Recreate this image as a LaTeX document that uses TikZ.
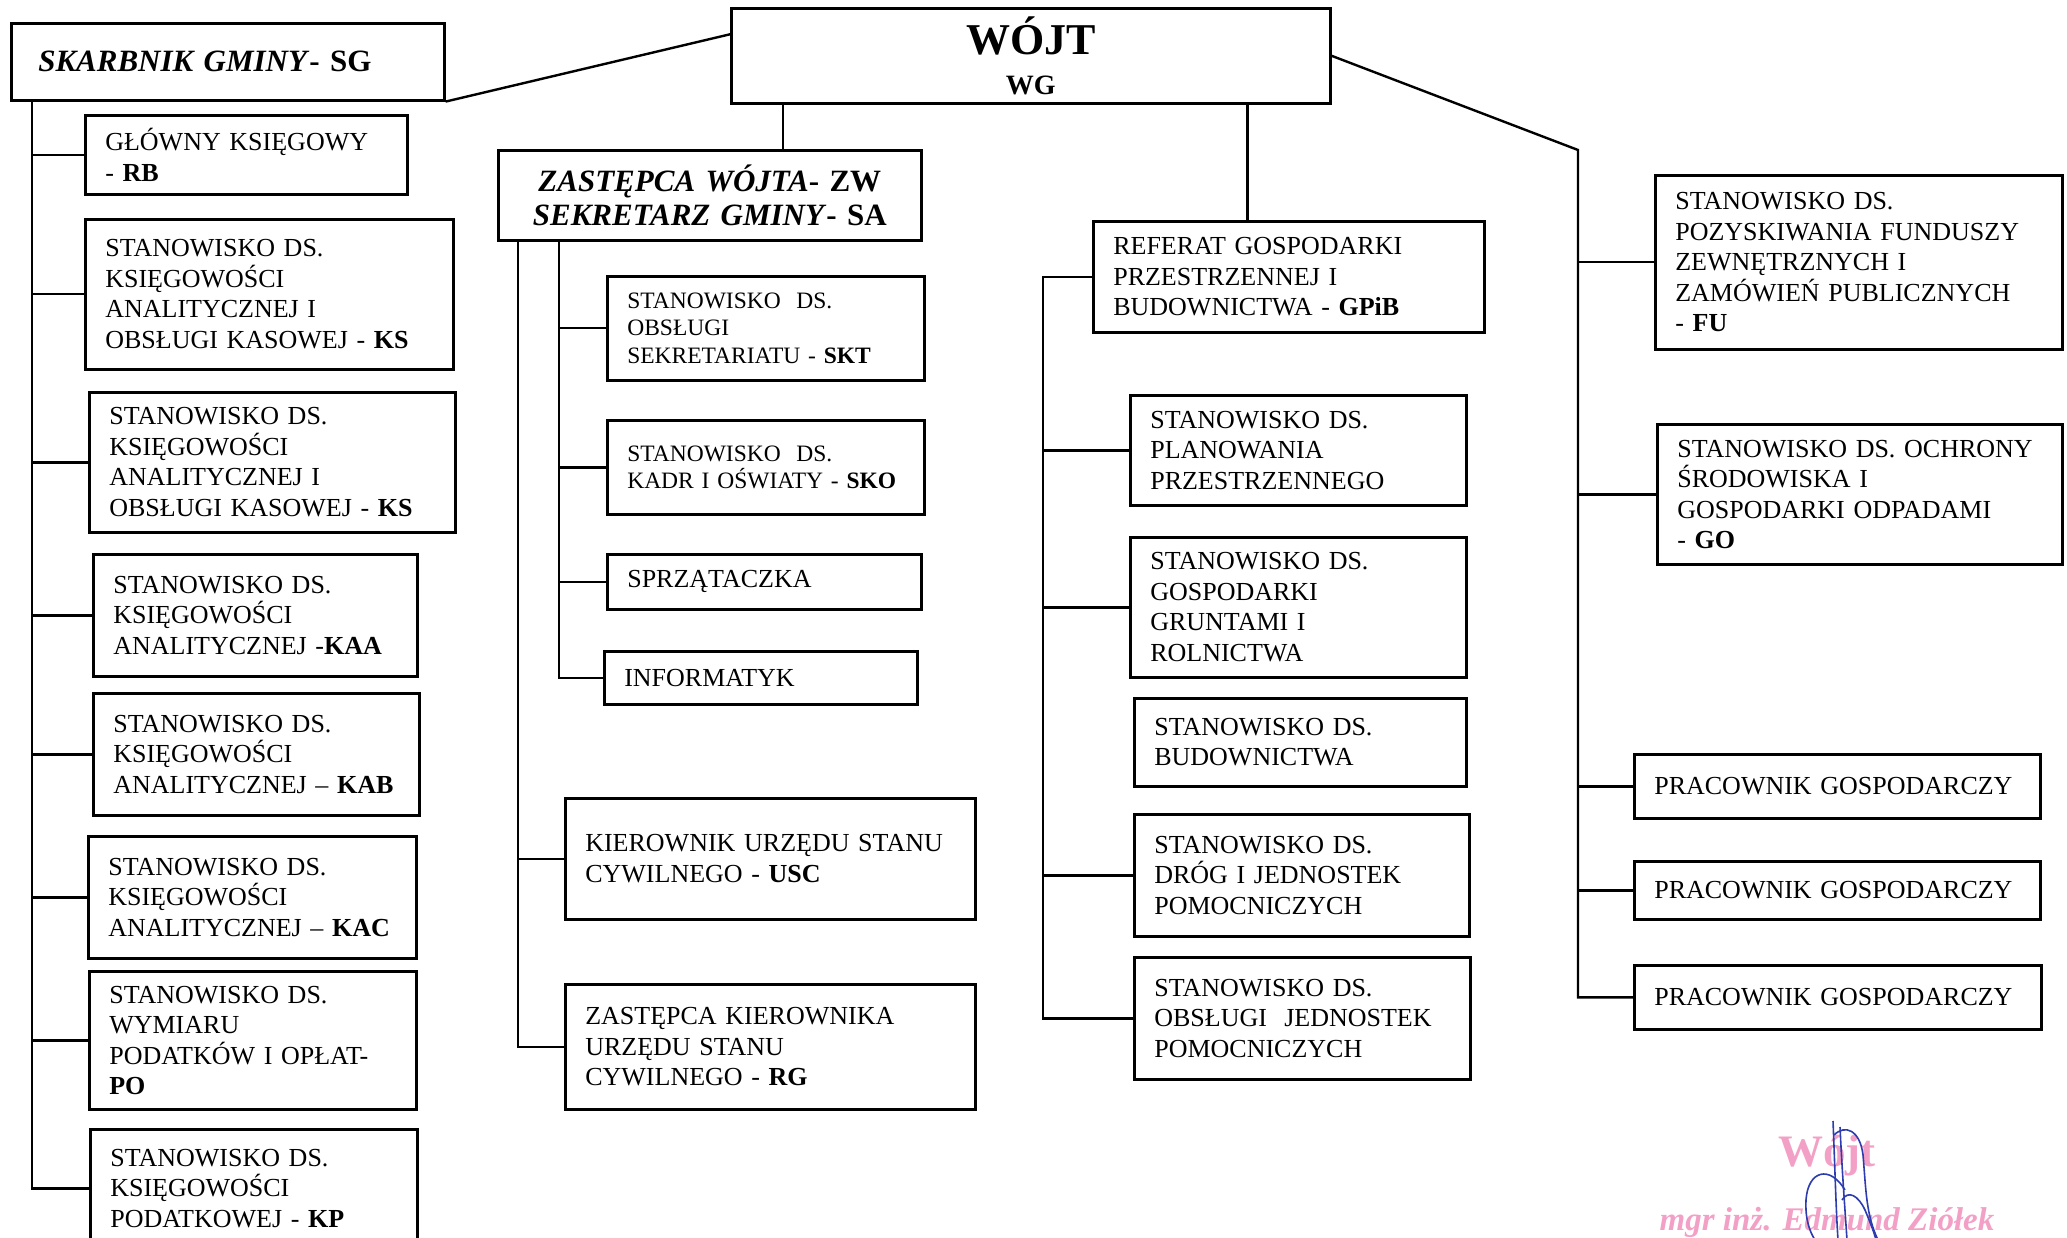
\documentclass[tikz,border=0pt]{standalone}
\usepackage{fontspec}
\setmainfont{Liberation Serif}
\usetikzlibrary{positioning,calc}
\definecolor{stamppink}{RGB}{243,160,198}
\definecolor{inkblue}{RGB}{45,60,175}

\begin{document}
\begin{tikzpicture}[x=1pt, y=-1pt,
        box/.style={draw, line width=2.6pt, anchor=north west, inner xsep=20pt,
          inner ysep=0pt, align=left, font=\fontsize{26}{30.5}\selectfont},
        small/.style={font=\fontsize{23.5}{27.5}\selectfont},
        head/.style={draw, line width=2.6pt, anchor=north west, inner xsep=20pt,
          inner ysep=0pt, align=center, font=\fontsize{31}{34}\selectfont\bfseries},
        link/.style={line width=2.4pt},
        ink/.style={inkblue, line width=1.6pt}
        ]
        \useasboundingbox (0,0) rectangle (2067,1238);

        % top level
        \node[head, align=left, inner xsep=27pt, text width=379pt, minimum height=77pt] (sg) at (10,22) {\textit{SKARBNIK GMINY}- SG};
        \node[head, text width=559pt, minimum height=95pt, font=\fontsize{28}{40}\selectfont\bfseries] (wg) at (730,7) {{\fontsize{44}{48}\selectfont WÓJT}\\WG};
        \node[head, text width=383pt, minimum height=90pt] (zw) at (497,149) {\textit{ZASTĘPCA WÓJTA}- ZW\\\textit{SEKRETARZ GMINY}- SA};
        \node[box, text width=351pt, minimum height=111pt] (gp) at (1092,220) {REFERAT GOSPODARKI\\PRZESTRZENNEJ I\\BUDOWNICTWA - \textbf{GPiB}};

        % skarbnik
        \node[box, text width=282pt, minimum height=79pt] (rb) at (84,114) {GŁÓWNY KSIĘGOWY\\- \textbf{RB}};
        \node[box, text width=328pt, minimum height=150pt] (ks1) at (84,218) {STANOWISKO DS.\\KSIĘGOWOŚCI\\ANALITYCZNEJ I\\OBSŁUGI KASOWEJ - \textbf{KS}};
        \node[box, text width=326pt, minimum height=140pt] (ks2) at (88,391) {STANOWISKO DS.\\KSIĘGOWOŚCI\\ANALITYCZNEJ I\\OBSŁUGI KASOWEJ - \textbf{KS}};
        \node[box, text width=284pt, minimum height=122pt] (kaa) at (92,553) {STANOWISKO DS.\\KSIĘGOWOŚCI\\ANALITYCZNEJ -\textbf{KAA}};
        \node[box, text width=286pt, minimum height=122pt] (kab) at (92,692) {STANOWISKO DS.\\KSIĘGOWOŚCI\\ANALITYCZNEJ – \textbf{KAB}};
        \node[box, text width=288pt, minimum height=122pt] (kac) at (87,835) {STANOWISKO DS.\\KSIĘGOWOŚCI\\ANALITYCZNEJ – \textbf{KAC}};
        \node[box, text width=287pt, minimum height=138pt] (po) at (88,970) {STANOWISKO DS.\\WYMIARU\\PODATKÓW I OPŁAT-\\\textbf{PO}};
        \node[box, text width=287pt, minimum height=118pt] (kp) at (89,1128) {STANOWISKO DS.\\KSIĘGOWOŚCI\\PODATKOWEJ - \textbf{KP}};

        % zastepca / sekretarz
        \node[box, small, text width=277pt, minimum height=104pt] (skt) at (606,275) {STANOWISKO\ \ DS.\\OBSŁUGI\\SEKRETARIATU - \textbf{SKT}};
        \node[box, small, text width=277pt, minimum height=94pt] (sko) at (606,419) {STANOWISKO\ \ DS.\\KADR I OŚWIATY - \textbf{SKO}};
        \node[box, text width=274pt, minimum height=55pt] (spr) at (606,553) {SPRZĄTACZKA};
        \node[box, text width=273pt, minimum height=53pt] (inf) at (603,650) {INFORMATYK};
        \node[box, text width=370pt, minimum height=121pt] (usc) at (564,797) {KIEROWNIK URZĘDU STANU\\CYWILNEGO - \textbf{USC}};
        \node[box, text width=370pt, minimum height=125pt] (rg) at (564,983) {ZASTĘPCA KIEROWNIKA\\URZĘDU STANU\\CYWILNEGO - \textbf{RG}};

        % referat
        \node[box, text width=296pt, minimum height=110pt] (plan) at (1129,394) {STANOWISKO DS.\\PLANOWANIA\\PRZESTRZENNEGO};
        \node[box, text width=296pt, minimum height=140pt] (grunt) at (1129,536) {STANOWISKO DS.\\GOSPODARKI\\GRUNTAMI I\\ROLNICTWA};
        \node[box, text width=292pt, minimum height=88pt] (bud) at (1133,697) {STANOWISKO DS.\\BUDOWNICTWA};
        \node[box, text width=295pt, minimum height=122pt] (drog) at (1133,813) {STANOWISKO DS.\\DRÓG I JEDNOSTEK\\POMOCNICZYCH};
        \node[box, text width=296pt, minimum height=122pt] (obs) at (1133,956) {STANOWISKO DS.\\OBSŁUGI\ \ JEDNOSTEK\\POMOCNICZYCH};

        % right column
        \node[box, text width=367pt, minimum height=174pt] (fu) at (1654,174) {STANOWISKO DS.\\POZYSKIWANIA FUNDUSZY\\ZEWNĘTRZNYCH I\\ZAMÓWIEŃ PUBLICZNYCH\\- \textbf{FU}};
        \node[box, text width=365pt, minimum height=140pt] (go) at (1656,423) {STANOWISKO DS. OCHRONY\\ŚRODOWISKA I\\GOSPODARKI ODPADAMI\\-\ \textbf{GO}};
        \node[box, text width=366pt, minimum height=64pt] (pg1) at (1633,753) {PRACOWNIK GOSPODARCZY};
        \node[box, text width=366pt, minimum height=58pt] (pg2) at (1633,860) {PRACOWNIK GOSPODARCZY};
        \node[box, text width=367pt, minimum height=64pt] (pg3) at (1633,964) {PRACOWNIK GOSPODARCZY};

        % connectors
        \coordinate (sgl) at ([xshift=22pt]sg.south west);
        \coordinate (zwt) at ([xshift=73pt]zw.north);
        \coordinate (gpt) at ([xshift=-41.5pt]gp.north);
        \coordinate (zwa) at ([xshift=21pt]zw.south west);
        \coordinate (zwb) at ([xshift=62pt]zw.south west);
        \coordinate (gpl) at ([xshift=-49pt]gp.west);
        \coordinate (rt) at (1578,150);

        \draw[link] (sg.south east) -- ([yshift=21.5pt]wg.west);
        \draw[link] (zwt) -- (zwt |- wg.south);
        \draw[link] (gpt) -- (gpt |- wg.south);
        \draw[link] (wg.east) -- (rt) -- (rt |- pg3.west) -- (pg3.west);
        \foreach \n in {fu,go,pg1,pg2} \draw[link] (rt |- \n.west) -- (\n.west);

        \draw[link] (sgl) -- (sgl |- kp.west) -- (kp.west);
        \foreach \n in {rb,ks1,ks2,kaa,kab,kac,po} \draw[link] (sgl |- \n.west) -- (\n.west);

        \draw[link] (zwa) -- (zwa |- rg.west) -- (rg.west);
        \draw[link] (zwa |- usc.west) -- (usc.west);
        \draw[link] (zwb) -- (zwb |- inf.west) -- (inf.west);
        \foreach \n in {skt,sko,spr} \draw[link] (zwb |- \n.west) -- (\n.west);

        \draw[link] (gp.west) -- (gpl) -- (gpl |- obs.west) -- (obs.west);
        \foreach \n in {plan,grunt,drog} \draw[link] (gpl |- \n.west) -- (\n.west);

        % stamp and signature
        \node[text=stamppink, anchor=base, font=\fontsize{45}{50}\selectfont\bfseries] (stw) at (1827,1166) {Wójt};
        \node[text=stamppink, anchor=base, font=\fontsize{33}{36}\selectfont\bfseries\itshape] (stn) at (1827,1230) {mgr inż. Edmund Ziółek};
        \draw[ink] (1833,1121) .. controls (1835,1170) and (1836,1210) .. (1838,1240);
        \draw[ink] (1840,1127) .. controls (1842,1170) and (1845,1210) .. (1847,1240);
        \draw[ink] (1834,1135) .. controls (1845,1124) and (1860,1130) .. (1863,1155) .. controls (1866,1190) and (1866,1215) .. (1878,1240);
        \draw[ink] (1845,1190) .. controls (1830,1165) and (1808,1170) .. (1806,1200) .. controls (1805,1220) and (1810,1232) .. (1815,1240);
        \draw[ink] (1842,1200) .. controls (1848,1190) and (1858,1195) .. (1865,1210) .. controls (1870,1222) and (1874,1232) .. (1876,1240);
      \end{tikzpicture}
\end{document}
